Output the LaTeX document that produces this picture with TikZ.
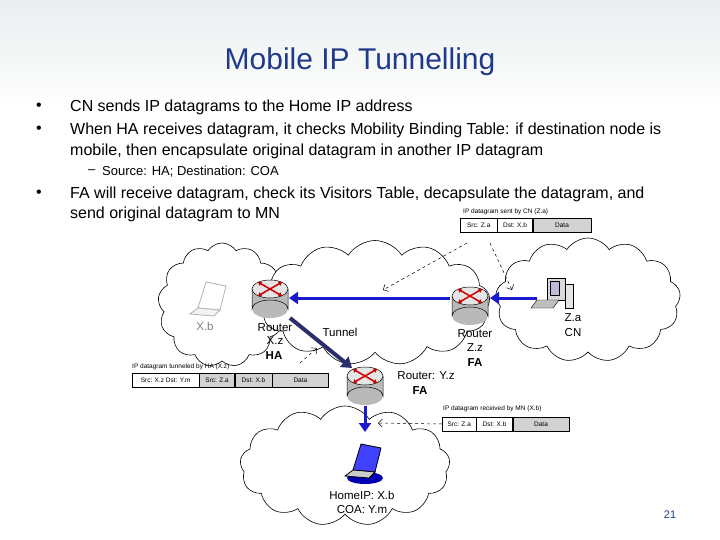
\documentclass[tikz,border=0pt]{standalone}
\usepackage{fontspec}
\setmainfont{Liberation Sans}
\usetikzlibrary{shapes.symbols,arrows.meta}
\definecolor{ttl}{HTML}{1F3A8A}
\definecolor{arrowblue}{HTML}{1A1ACC}
\definecolor{navy}{HTML}{2A2F6A}
\tikzset{
 cloudn/.style={cloud, cloud puffs=13, cloud puff arc=115, draw=black, fill=white, line width=0.6pt, inner sep=0pt},
 cell/.style={draw=black, line width=0.4pt, minimum height=14, inner sep=1pt, font=\fontsize{6.5}{7}\selectfont, anchor=west},
 shaded/.style={fill=gray!35},
 pcap/.style={font=\fontsize{6.5}{7}\selectfont, anchor=west, inner sep=0pt},
 lbl/.style={font=\fontsize{11.5}{12}\selectfont, inner sep=0pt},
 blbl/.style={font=\bfseries\fontsize{11.5}{12}\selectfont, inner sep=0pt},
 body/.style={font=\fontsize{16}{18}\selectfont, anchor=west, inner sep=0pt, text=black},
 bluearrow/.style={arrowblue, line width=3pt, -{Triangle[length=9pt,width=12pt]}},
 dasharrow/.style={dashed, line width=0.5pt, -{Straight Barb[length=4pt]}},
}
\newcommand{\router}[2]{%
 \begin{scope}[shift={(#1,#2)}]
  \fill[gray!55] (0,20) ellipse[x radius=18,y radius=9];
  \fill[gray!55] (-18,0) rectangle (18,20);
  \draw[line width=0.5pt] (-18,0) -- (-18,20) arc[start angle=180,end angle=0,x radius=18,y radius=-9] -- (18,0);
  \draw[fill=gray!20, line width=0.5pt] (0,0) ellipse[x radius=18,y radius=9];
  \foreach \a in {30,150,210,330}{\draw[red!80!black,line width=1.5pt,-{Triangle[length=3.5pt,width=4.5pt]}] (0,0) -- ++(\a:14);}
 \end{scope}}
\begin{document}
\begin{tikzpicture}[x=1pt,y=-1pt]
\shade[top color=cyan!12!gray!15, bottom color=white] (0,0) rectangle (720,110);
\useasboundingbox (0,0) rectangle (720,540);
\node[font=\fontsize{30}{34}\selectfont, text=ttl] (title) at (360,62) {Mobile IP Tunnelling};
\node[body] (b1) at (36,107) {•}; \node[body] (t1) at (70,107) {CN sends IP datagrams to the Home IP address};
\node[body] (b2) at (36,130) {•}; \node[body] (t2) at (70,130) {When HA receives datagram, it checks Mobility Binding Table: if destination node is};
\node[body] (t2b) at (70,151) {mobile, then encapsulate original datagram in another IP datagram};
\node[body, font=\fontsize{13}{14}\selectfont] (d1) at (88,172) {–};
\node[body, font=\fontsize{13}{14}\selectfont] (s1) at (102,172) {Source: HA; Destination: COA};
\node[body] (b3) at (36,194) {•}; \node[body] (t3) at (70,194) {FA will receive datagram, check its Visitors Table, decapsulate the datagram, and};
\node[body] (t3b) at (70,214) {send original datagram to MN};
% clouds
\node[cloudn, aspect=1.0, minimum width=128, minimum height=124] (cl) at (222,305) {};
\node[cloudn, aspect=1.7, minimum width=230, minimum height=125] (cm) at (375,303) {};
\node[cloudn, aspect=1.45, minimum width=185, minimum height=124] (cr) at (588,300) {};
\node[cloudn, aspect=1.75, minimum width=210, minimum height=120] (cb) at (345,466) {};
% packet top
\node[pcap] (c1) at (463,212) {IP datagram sent by CN (Z.a)};
\node[cell, minimum width=37] (p1a) at (460,225) {Src: Z.a};
\node[cell, minimum width=35] (p1b) at (p1a.east) {Dst: X.b};
\node[cell, minimum width=58, shaded] (p1c) at (p1b.east) {Data};
% packet left
\node[pcap] (c2) at (132,367) {IP datagram tunneled by HA (X.z)};
\node[cell, minimum width=67] (p2a) at (132,380) {Src: X.z  Dst: Y.m};
\node[cell, minimum width=35, shaded] (p2b) at (p2a.east) {Src: Z.a};
\node[cell, minimum width=37, shaded] (p2c) at (p2b.east) {Dst: X.b};
\node[cell, minimum width=56, shaded] (p2d) at (p2c.east) {Data};
% packet bottom
\node[pcap] (c3) at (443,409) {IP datagram received by MN (X.b)};
\node[cell, minimum width=34] (p3a) at (442,424) {Src: Z.a};
\node[cell, minimum width=36] (p3b) at (p3a.east) {Dst: X.b};
\node[cell, minimum width=56, shaded] (p3c) at (p3b.east) {Data};
% routers
\router{270}{289}
\router{470}{296}
\router{365}{376}
\coordinate (haR) at (289,298); \coordinate (haT) at (290,318);
\coordinate (faR) at (450,298); \coordinate (faRr) at (490,298);
\coordinate (fab) at (352,368); \coordinate (fabB) at (365,406); \coordinate (mn) at (365,432);
% laptops
\begin{scope}[shift={(210,300)}]
 \draw[gray!60, fill=white, line width=0.8pt] (-12,8) -- (-4,-18) -- (16,-14) -- (10,10) -- cycle;
 \draw[gray!60, fill=gray!10, line width=0.8pt] (-12,8) -- (10,10) -- (4,16) -- (-20,14) -- cycle;
\end{scope}
\node[lbl, text=gray] (xb) at (205,326) {X.b};
\begin{scope}[shift={(365,462)}]
 \fill[blue!70!black] (0,16) ellipse[x radius=18,y radius=6];
 \draw[black, fill=blue!75, line width=0.8pt] (-12,8) -- (-4,-18) -- (16,-14) -- (10,10) -- cycle;
 \draw[black, fill=gray!40, line width=0.8pt] (-12,8) -- (10,10) -- (4,16) -- (-20,14) -- cycle;
\end{scope}
% CN computer
\begin{scope}[shift={(555,294)}]
 \draw[fill=gray!30] (-8,-16) rectangle (10,6);
 \draw[fill=blue!30!gray!40] (-5,-13) rectangle (4,1);
 \draw[fill=gray!50] (-18,6) -- (4,6) -- (-2,14) -- (-24,14) -- cycle;
 \draw[fill=gray!20] (10,-10) rectangle (18,14);
\end{scope}
\coordinate (cn) at (537,298);
\node[lbl] (za) at (573,318) {Z.a};
\node[lbl] (cnl) at (573,333) {CN};
% labels
\node[lbl] (r1) at (275,328) {Router};
\node[lbl] (r1b) at (275,341) {X.z};
\node[blbl] (r1c) at (274,356) {HA};
\node[lbl] (tun) at (340,332) {Tunnel};
\node[lbl] (r2) at (475,334) {Router};
\node[lbl] (r2b) at (475,348) {Z.z};
\node[blbl] (r2c) at (475,363) {FA};
\node[lbl] (r3) at (426,376) {Router: Y.z};
\node[blbl] (r3b) at (420,391) {FA};
\node[lbl] (hip) at (362,495) {HomeIP: X.b};
\node[lbl] (coa) at (362,510) {COA: Y.m};
\node[font=\fontsize{11}{12}\selectfont, text=ttl] (pg) at (670,515) {21};
% arrows
\draw[bluearrow] (cn) -- (faRr);
\draw[bluearrow] (faR) -- (haR);
\draw[navy, line width=4pt, -{Triangle[length=10pt,width=13pt]}] (haT) -- (fab);
\draw[bluearrow] (fabB) -- (mn);
\coordinate (e1) at (383,290); \coordinate (e2) at (512,290); \coordinate (e3) at (317,348); \coordinate (e3s) at (300,363); \coordinate (e4) at (378,423);
\coordinate (s1a) at (467,243); \coordinate (s2a) at (490,243);
\draw[dasharrow] (s1a) -- (e1);
\draw[dasharrow] (s2a) -- (e2);
\draw[dasharrow] (e3s) -- (e3);
\draw[dasharrow] (p3a.west) -- (e4);
\end{tikzpicture}
\end{document}
